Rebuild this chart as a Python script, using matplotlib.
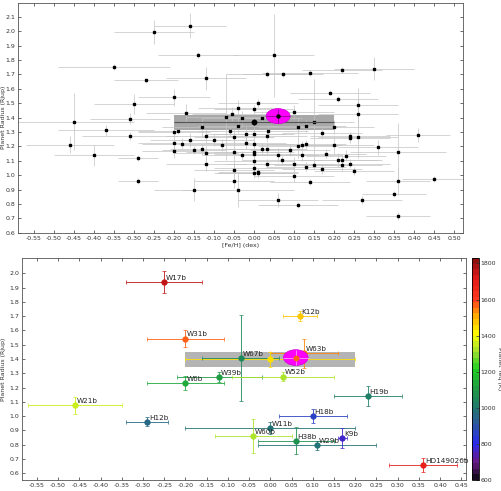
import numpy as np
import matplotlib
matplotlib.use("Agg")
import matplotlib.pyplot as plt
from matplotlib.colors import LinearSegmentedColormap, Normalize
from matplotlib.patches import Ellipse, Rectangle
from matplotlib.cm import ScalarMappable

# ---- top panel: full sample ([Fe/H], err, Rp, err) ----
fe_all = [-0.16, -0.25, -0.14, -0.35, -0.27, -0.12, -0.20, -0.30, -0.17, -0.45,
          -0.31, -0.37, -0.31, -0.46, -0.40, -0.29, -0.29, -0.20, -0.19, -0.20,
          -0.20, -0.18, -0.16, -0.15, -0.13, -0.12, -0.13, -0.12, -0.12, -0.10,
          -0.08, -0.15, -0.07, -0.06, -0.055, -0.04, -0.04, -0.03, -0.05, -0.02,
          -0.02, -0.05, -0.03, -0.05, -0.05, -0.04,
          0.05, 0.031, 0.071, 0.14, 0.22, 0.30, 0.19, 0.21, 0.01, 0.00,
          0.26, 0.26, 0.10, 0.02, 0.11, 0.13, 0.15, 0.20, 0.034, 0.00,
          0.031, 0.17, 0.24, 0.24, 0.26, 0.41, 0.00, 0.13, 0.12, 0.11,
          0.20, 0.31, 0.02, 0.031, 0.09, 0.00, 0.00, 0.06, 0.12, 0.18,
          0.36, 0.23, 0.21, 0.22, 0.00, 0.07, 0.031, 0.10, 0.15, 0.24,
          0.22, 0.13, 0.00, 0.17, 0.25, 0.01, 0.01, 0.00, 0.10, 0.45,
          0.36, 0.14, 0.35, 0.27, 0.06, 0.11, 0.36]
fe_all_err = [0.09, 0.10, 0.10, 0.14, 0.08, 0.10, 0.09, 0.10, 0.10, 0.15,
              0.10, 0.12, 0.12, 0.11, 0.10, 0.05, 0.05, 0.09, 0.10, 0.09,
              0.08, 0.10, 0.10, 0.08, 0.10, 0.10, 0.08, 0.08, 0.10, 0.10,
              0.10, 0.10, 0.10, 0.08, 0.10, 0.10, 0.10, 0.10, 0.10, 0.10,
              0.10, 0.12, 0.10, 0.10, 0.10, 0.14,
              0.10, 0.10, 0.10, 0.12, 0.10, 0.10, 0.10, 0.10, 0.10, 0.10,
              0.10, 0.10, 0.10, 0.10, 0.10, 0.10, 0.10, 0.10, 0.10, 0.10,
              0.10, 0.10, 0.10, 0.10, 0.10, 0.08, 0.10, 0.10, 0.10, 0.10,
              0.10, 0.10, 0.10, 0.10, 0.10, 0.10, 0.10, 0.10, 0.10, 0.10,
              0.12, 0.10, 0.10, 0.10, 0.10, 0.10, 0.10, 0.10, 0.10, 0.10,
              0.10, 0.10, 0.10, 0.10, 0.10, 0.10, 0.10, 0.10, 0.10, 0.08,
              0.08, 0.10, 0.08, 0.10, 0.10, 0.10, 0.08]
rp_all = [2.04, 1.995, 1.835, 1.753, 1.658, 1.672, 1.54, 1.493, 1.433, 1.372,
          1.393, 1.312, 1.272, 1.211, 1.137, 1.121, 0.96, 1.30, 1.307, 1.226,
          1.167, 1.219, 1.244, 1.174, 1.335, 1.272, 1.181, 1.156, 1.079, 1.244,
          1.211, 0.90, 1.405, 1.305, 1.423, 1.47, 1.344, 1.398, 1.263, 1.284,
          1.223, 1.16, 1.137, 1.035, 0.96, 0.90,
          1.833, 1.705, 1.70, 1.709, 1.733, 1.74, 1.574, 1.53, 1.502, 1.458,
          1.488, 1.426, 1.44, 1.40, 1.337, 1.342, 1.37, 1.335, 1.307, 1.284,
          1.27, 1.29, 1.272, 1.256, 1.267, 1.281, 1.216, 1.216, 1.209, 1.202,
          1.209, 1.193, 1.184, 1.179, 1.174, 1.163, 1.147, 1.14, 1.137, 1.149,
          1.16, 1.135, 1.105, 1.105, 1.10, 1.105, 1.081, 1.077, 1.072, 1.081,
          1.072, 1.058, 1.047, 1.04, 1.03, 1.023, 1.012, 1.012, 0.995, 0.972,
          0.96, 0.953, 0.867, 0.828, 0.826, 0.791, 0.716]
rp_all_err = [0.09, 0.08, 0.02, 0.02, 0.02, 0.08, 0.06, 0.07, 0.06, 0.20,
              0.04, 0.04, 0.03, 0.06, 0.07, 0.02, 0.02, 0.03, 0.02, 0.05,
              0.05, 0.04, 0.05, 0.03, 0.07, 0.05, 0.04, 0.05, 0.05, 0.04,
              0.04, 0.08, 0.30, 0.03, 0.05, 0.05, 0.05, 0.05, 0.05, 0.05,
              0.04, 0.12, 0.03, 0.04, 0.05, 0.12,
              0.29, 0.02, 0.02, 0.02, 0.02, 0.08, 0.02, 0.02, 0.03, 0.03,
              0.12, 0.10, 0.05, 0.03, 0.06, 0.04, 0.30, 0.05, 0.03, 0.05,
              0.04, 0.04, 0.03, 0.03, 0.15, 0.05, 0.03, 0.03, 0.03, 0.08,
              0.06, 0.05, 0.04, 0.04, 0.04, 0.03, 0.03, 0.05, 0.04, 0.03,
              0.20, 0.04, 0.05, 0.04, 0.03, 0.03, 0.03, 0.05, 0.03, 0.03,
              0.04, 0.03, 0.03, 0.03, 0.03, 0.03, 0.03, 0.03, 0.04, 0.02,
              0.10, 0.02, 0.02, 0.03, 0.05, 0.02, 0.03]

# sample mean (box) and target
mean_fe, mean_fe_err = 0.0, 0.20
mean_rp_top, mean_rp_top_err = 1.367, 0.05
mean_rp_bot, mean_rp_bot_err = 1.397, 0.05
mean_teq = 1440
target_fe, target_rp = 0.06, 1.41
target_teq = 1570

# ---- bottom panel: labelled planets ----
names = ["W17b", "W31b", "W67b", "W63b", "W39b", "W6b", "W52b", "W21b", "H12b",
         "H19b", "H18b", "W11b", "W60b", "H38b", "W29b", "K9b", "K12b", "HD149026b"]
fe = [-0.25, -0.20, -0.07, 0.08, -0.12, -0.20, 0.03, -0.46, -0.29,
      0.23, 0.10, 0.00, -0.04, 0.06, 0.11, 0.17, 0.07, 0.36]
fe_err = [0.09, 0.09, 0.09, 0.08, 0.10, 0.09, 0.12, 0.11, 0.05,
          0.08, 0.08, 0.20, 0.09, 0.09, 0.14, 0.01, 0.04, 0.08]
rp = [1.939, 1.543, 1.407, 1.44, 1.274, 1.232, 1.277, 1.076, 0.961,
      1.139, 1.00, 0.916, 0.862, 0.827, 0.795, 0.844, 1.70, 0.658]
rp_err = [0.075, 0.06, 0.30, 0.10, 0.035, 0.05, 0.03, 0.06, 0.03,
          0.07, 0.05, 0.04, 0.12, 0.095, 0.03, 0.07, 0.035, 0.05]
teq = [1760, 1575, 1040, 1530, 1120, 1150, 1315, 1340, 960,
       1010, 850, 990, 1320, 1080, 980, 760, 1480, 1700]

cb_ticks = [600, 800, 1000, 1200, 1400, 1600, 1800]
teq_min, teq_max = 600, 1830

W, H = 502, 491
FS = 4.5

teq_cmap = LinearSegmentedColormap.from_list("teq", [
    (0.00, "#1a0a22"), (0.07, "#6a1a86"), (0.16, "#2a2af0"), (0.25, "#2a5a9a"),
    (0.33, "#1f7d66"), (0.42, "#1fa040"), (0.50, "#20d020"), (0.58, "#a0e030"),
    (0.66, "#ffff00"), (0.74, "#ffb000"), (0.82, "#ff3a20"), (0.92, "#e01818"),
    (1.00, "#901010")], N=40)


def style_axes(ax):
    ax.tick_params(direction="in", length=2, width=0.5, labelsize=FS,
                   top=True, right=True, pad=2, colors="#333333")
    for s in ax.spines.values():
        s.set_linewidth(0.6)
        s.set_color("#555555")


fig = plt.figure(figsize=(W / 100, H / 100), dpi=100)

# ---------------- top panel ----------------
ax1 = fig.add_axes([18 / W, 1 - 233 / H, (463 - 18) / W, (233 - 2.5) / H])
ax1.add_patch(Rectangle((mean_fe - mean_fe_err, mean_rp_top - mean_rp_top_err),
                        2 * mean_fe_err, 2 * mean_rp_top_err,
                        facecolor="#a8a8a8", edgecolor="none", zorder=1))
ax1.errorbar(fe_all, rp_all, xerr=fe_all_err, yerr=rp_all_err, fmt="s",
             ms=1.6, color="black", ecolor="#c4c4c4", elinewidth=0.5,
             capsize=0, zorder=2)
ax1.errorbar([mean_fe], [mean_rp_top], xerr=[mean_fe_err], yerr=[0.02],
             fmt="o", ms=3.2, color="black", ecolor="#555555", elinewidth=0.8,
             zorder=3)
ax1.add_patch(Ellipse((target_fe, target_rp), 0.06, 0.105, facecolor="#ff00ff",
                      edgecolor="#d000d0", lw=0.5, zorder=4))
ax1.errorbar([target_fe], [target_rp], xerr=[0.03], yerr=[0.05], fmt="o",
             ms=2.2, color="black", ecolor="#7a0a7a", elinewidth=0.5, zorder=5)
ax1.set_xlim(-0.59, 0.522)
ax1.set_ylim(0.598, 2.2)
ax1.set_xticks(np.arange(-0.55, 0.51, 0.05))
ax1.set_xticklabels([f"{v:.2f}" for v in np.arange(-0.55, 0.51, 0.05)])
ax1.set_yticks(np.arange(0.6, 2.11, 0.1))
ax1.set_yticklabels([f"{v:.1f}" for v in np.arange(0.6, 2.11, 0.1)])
ax1.set_xlabel("[Fe/H] (dex)", fontsize=FS, labelpad=1.5, color="#333333")
ax1.set_ylabel("Planet Radius (Rjup)", fontsize=FS, color="#333333")
ax1.yaxis.set_label_coords(-0.027, 0.5)
style_axes(ax1)

# ---------------- bottom panel ----------------
ax2 = fig.add_axes([22 / W, 1 - 480 / H, (466 - 22) / W, (480 - 258) / H])
norm = Normalize(vmin=teq_min, vmax=teq_max)
ax2.add_patch(Rectangle((mean_fe - mean_fe_err, mean_rp_bot - mean_rp_bot_err),
                        2 * mean_fe_err, 2 * mean_rp_bot_err,
                        facecolor="#b4b4b4", edgecolor="none", zorder=1))
ax2.errorbar([mean_fe], [mean_rp_bot], xerr=[mean_fe_err], yerr=[mean_rp_bot_err],
             fmt="o", ms=3.5, color=teq_cmap(norm(mean_teq)),
             ecolor=teq_cmap(norm(mean_teq)), elinewidth=0.6, capsize=1.2,
             capthick=0.5, zorder=3)
for n, x, xe, y, ye, t in zip(names, fe, fe_err, rp, rp_err, teq):
    c = teq_cmap(norm(t))
    z = 2 if n == "W63b" else 3
    ax2.errorbar([x], [y], xerr=[xe], yerr=[ye], fmt="o", ms=3.5, color=c,
                 ecolor=c, elinewidth=0.6, capsize=1.2, capthick=0.5, zorder=z)
    ax2.text(x + 0.004, y + 0.008, n, fontsize=5.2, color="#222222",
             ha="left", va="bottom", zorder=6)
ax2.add_patch(Ellipse((target_fe, target_rp), 0.058, 0.11, facecolor="#ff00ff",
                      edgecolor="#d000d0", lw=0.5, zorder=4))
ax2.errorbar([target_fe], [target_rp], xerr=[0.03], yerr=[0.05], fmt="o",
             ms=3.2, color=teq_cmap(norm(target_teq)), ecolor="#ffb0ff",
             elinewidth=0.5, zorder=5)
ax2.set_xlim(-0.585, 0.461)
ax2.set_ylim(0.553, 2.107)
ax2.set_xticks(np.arange(-0.55, 0.46, 0.05))
ax2.set_xticklabels([f"{v:.2f}" for v in np.arange(-0.55, 0.46, 0.05)])
ax2.set_yticks(np.arange(0.6, 2.01, 0.1))
ax2.set_yticklabels([f"{v:.1f}" for v in np.arange(0.6, 2.01, 0.1)])
ax2.set_ylabel("Planet Radius (Rjup)", fontsize=FS, color="#333333")
ax2.yaxis.set_label_coords(-0.036, 0.5)
style_axes(ax2)

cax = fig.add_axes([472 / W, 1 - 480 / H, 7 / W, (480 - 258) / H])
cb = fig.colorbar(ScalarMappable(norm=norm, cmap=teq_cmap), cax=cax)
cb.set_ticks(cb_ticks)
cb.ax.tick_params(labelsize=FS, length=2, width=0.5, direction="in",
                  pad=1.2, colors="#333333")
cb.outline.set_linewidth(0.6)
cb.ax.set_ylabel("Planet Teq (K)", fontsize=FS, rotation=270, va="center",
                 color="#333333")
cb.ax.yaxis.set_label_coords(3.95, 0.5)

fig.savefig("out.png", dpi=100)
